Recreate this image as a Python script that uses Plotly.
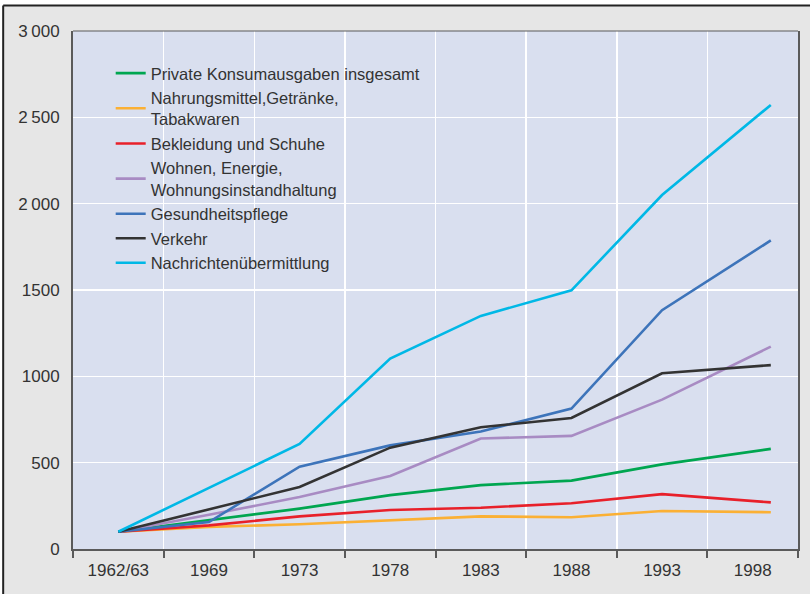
import plotly.graph_objects as go

# ---- data ----
periods = ["1962/63", "1969", "1973", "1978", "1983", "1988", "1993", "1998"]
x_index = [0, 1, 2, 3, 4, 5, 6, 7.2]   # position of each observation on the period axis

series_names = [
    "Private Konsumausgaben insgesamt",
    "Nahrungsmittel,Getränke,<br>Tabakwaren",
    "Bekleidung und Schuhe",
    "Wohnen, Energie,<br>Wohnungsinstandhaltung",
    "Gesundheitspflege",
    "Verkehr",
    "Nachrichtenübermittlung",
]
konsum_gesamt = [100, 166, 234, 312, 370, 396, 490, 580]
nahrung = [100, 128, 143, 166, 189, 184, 220, 213]
bekleidung = [100, 137, 189, 226, 239, 265, 318, 270]
wohnen = [100, 198, 301, 423, 640, 655, 865, 1172]
gesundheit = [100, 156, 477, 600, 680, 813, 1383, 1787]
verkehr = [100, 230, 359, 587, 705, 759, 1018, 1065]
nachrichten = [100, 355, 608, 1103, 1350, 1498, 2050, 2572]

y_tickvals = [0, 500, 1000, 1500, 2000, 2500, 3000]
y_ticktext = ["0", "500", "1000", "1500", "2\u2009000", "2\u2009500", "3\u2009000"]

series_values = [konsum_gesamt, nahrung, bekleidung, wohnen, gesundheit, verkehr, nachrichten]
colors = ["#00a650", "#fbb034", "#e8202a", "#a88bc3", "#3d74ba", "#333333", "#00b8e6"]

fig = go.Figure()
for name, vals, col in zip(series_names, series_values, colors):
    fig.add_trace(go.Scatter(
        x=x_index, y=vals, mode="lines", name=name,
        line=dict(color=col, width=2.6),
    ))

font_family = "Liberation Sans, Arial, sans-serif"
text_color = "#333333"

fig.update_layout(
    width=810, height=594,
    margin=dict(l=73, r=10, t=31, b=45),
    paper_bgcolor="#e6e6e6",
    plot_bgcolor="#d9dfef",
    font=dict(family=font_family, size=17, color=text_color),
    showlegend=True,
    legend=dict(
        x=0.052, y=0.952, xanchor="left", yanchor="top",
        bgcolor="rgba(0,0,0,0)", borderwidth=0,
        font=dict(size=16.5, color=text_color),
        tracegroupgap=0,
    ),
    xaxis=dict(
        range=[-0.5, 7.5],
        tickmode="array", tickvals=list(range(len(periods))), ticktext=periods,
        ticks="", showgrid=False, zeroline=False,
        showline=True, linecolor="#5a5a5a", linewidth=2,
        minor=dict(tickmode="linear", tick0=-0.5, dtick=1, ticks="outside",
                   ticklen=7, tickwidth=2, tickcolor="#5a5a5a",
                   showgrid=True, gridcolor="white", gridwidth=1.5),
        tickfont=dict(size=17, color=text_color),
        ticklabelstandoff=5,
        fixedrange=True,
    ),
    yaxis=dict(
        range=[0, 3000],
        tickmode="array", tickvals=y_tickvals, ticktext=y_ticktext,
        ticks="", showgrid=True, gridcolor="white", gridwidth=1.5,
        zeroline=False,
        showline=True, linecolor="#5a5a5a", linewidth=2, mirror=True,
        tickfont=dict(size=17, color=text_color),
        ticklabelstandoff=8,
        fixedrange=True,
    ),
    shapes=[
        # thin top border of the plot area
        dict(type="line", xref="paper", yref="paper", x0=0, x1=1, y0=1, y1=1,
             line=dict(color="#5a5a5a", width=1)),
        # white margin outside the outer frame
        dict(type="rect", xref="paper", yref="paper", x0=-0.2, x1=-0.0963, y0=-0.2, y1=1.2,
             fillcolor="white", line=dict(width=0)),
        dict(type="rect", xref="paper", yref="paper", x0=-0.2, x1=1.2, y0=1.0492, y1=1.2,
             fillcolor="white", line=dict(width=0)),
        # outer frame (top and left edges)
        dict(type="line", xref="paper", yref="paper", x0=-0.0963, x1=1.02, y0=1.0492, y1=1.0492,
             line=dict(color="#222222", width=2)),
        dict(type="line", xref="paper", yref="paper", x0=-0.0963, x1=-0.0963, y0=-0.1, y1=1.0492,
             line=dict(color="#222222", width=2)),
    ],
)

fig.write_html(
    "out.html",
    config={"displayModeBar": False, "staticPlot": True},
    post_script="document.body.style.margin='0px';document.body.style.overflow='hidden';",
)
